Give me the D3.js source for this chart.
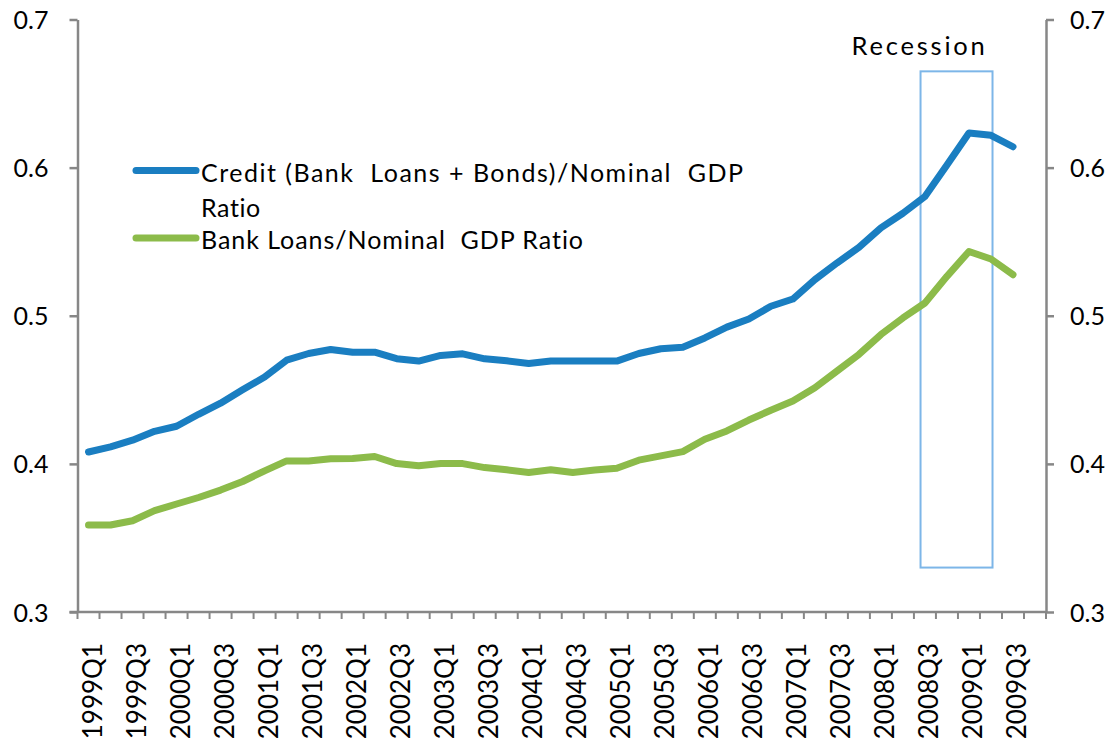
<!DOCTYPE html>
<html>
<head>
<meta charset="utf-8">
<script src="https://cdn.jsdelivr.net/npm/d3@7"></script>
<style>
  html, body { margin: 0; padding: 0; background: #ffffff; }
  svg { display: block; }
  text { font-family: Lato, "Open Sans", sans-serif; fill: #000; }
</style>
</head>
<body>
<svg id="chart" width="1118" height="745"></svg>
<script>
// Quarterly categories, 1999Q1 .. 2009Q4
const quarters = [
  "1999Q1","1999Q2","1999Q3","1999Q4",
  "2000Q1","2000Q2","2000Q3","2000Q4",
  "2001Q1","2001Q2","2001Q3","2001Q4",
  "2002Q1","2002Q2","2002Q3","2002Q4",
  "2003Q1","2003Q2","2003Q3","2003Q4",
  "2004Q1","2004Q2","2004Q3","2004Q4",
  "2005Q1","2005Q2","2005Q3","2005Q4",
  "2006Q1","2006Q2","2006Q3","2006Q4",
  "2007Q1","2007Q2","2007Q3","2007Q4",
  "2008Q1","2008Q2","2008Q3","2008Q4",
  "2009Q1","2009Q2","2009Q3","2009Q4"
];

// Credit (bank loans + bonds) / nominal GDP
const creditRatio = [
  0.408, 0.4115, 0.416, 0.422,
  0.4254, 0.4335, 0.441, 0.450,
  0.4586, 0.470, 0.4745, 0.4772,
  0.4754, 0.4754, 0.471, 0.4694,
  0.4732, 0.4743, 0.4709, 0.4696,
  0.4678, 0.4694, 0.4694, 0.4694,
  0.4694, 0.4745, 0.4777, 0.4788,
  0.485, 0.4923, 0.4978, 0.5064,
  0.5113, 0.5244, 0.5356, 0.5461,
  0.5593, 0.5692, 0.5805, 0.6018,
  0.6234, 0.6218, 0.6141, null
];

// Bank loans / nominal GDP
const loanRatio = [
  0.3587, 0.3587, 0.3616, 0.3684,
  0.3729, 0.3773, 0.3823, 0.3881,
  0.3953, 0.402, 0.402, 0.4034,
  0.4036, 0.405, 0.4002, 0.3987,
  0.4002, 0.4002, 0.3975, 0.396,
  0.3942, 0.396, 0.3942, 0.3958,
  0.3971, 0.4025, 0.4054, 0.4083,
  0.4166, 0.4222, 0.4296, 0.4362,
  0.4424, 0.4514, 0.4626, 0.4739,
  0.4873, 0.4985, 0.5086, 0.5266,
  0.5434, 0.5383, 0.5277, null
];

const yTicks = [0.3, 0.4, 0.5, 0.6, 0.7];
const seriesNames = [
  ["Credit (Bank  Loans + Bonds)/Nominal  GDP", "Ratio"],
  ["Bank Loans/Nominal  GDP Ratio"]
];
const seriesColors = ["#1a7ec1", "#8cbb4a"];
const recessionLabel = "Recession";
const recessionSpan = ["2008Q3", "2009Q2"];
const recessionRange = [0.33, 0.665];

const svg = d3.select("#chart");
const plotLeft = 77.5, plotRight = 1046, plotTop = 19.5, plotBottom = 612;

const x = d3.scaleBand().domain(quarters).range([plotLeft, plotRight]).padding(0);
const y = d3.scaleLinear().domain([0.3, 0.7]).range([plotBottom, plotTop]);
const cx = q => x(q) + x.bandwidth() / 2;

const axisColor = "#878787";

// Recession box
const boxX0 = x(recessionSpan[0]) + x.bandwidth() * 0.3;
const boxX1 = x(recessionSpan[1]) + x.bandwidth() * 0.57;
svg.append("rect")
  .attr("x", boxX0)
  .attr("y", y(recessionRange[1]))
  .attr("width", boxX1 - boxX0)
  .attr("height", y(recessionRange[0]) - y(recessionRange[1]))
  .attr("fill", "none")
  .attr("stroke", "#7db6e8")
  .attr("stroke-width", 2);

svg.append("text")
  .attr("x", boxX0 - 69)
  .attr("y", 55)
  .style("font-size", "25.5px")
  .style("letter-spacing", "2.8px")
  .text(recessionLabel);

// Left and right value axes
const yLeft = d3.axisLeft(y).tickValues(yTicks).tickFormat(d3.format(".1f")).tickSize(8).tickSizeOuter(0);
const gL = svg.append("g").attr("transform", `translate(${plotLeft},0)`).call(yLeft);
const yRight = d3.axisRight(y).tickValues(yTicks).tickFormat(d3.format(".1f")).tickSize(8).tickSizeOuter(0);
const gR = svg.append("g").attr("transform", `translate(${plotRight},0)`).call(yRight);

[gL, gR].forEach(g => {
  g.select(".domain").attr("stroke", axisColor).attr("stroke-width", 2.5);
  g.selectAll(".tick line").attr("stroke", axisColor).attr("stroke-width", 2.5);
  g.selectAll(".tick text").style("font-size", "25px").attr("fill", "#000");
});
gL.selectAll(".tick text").attr("x", -29).attr("dy", "0.36em");
gR.selectAll(".tick text").attr("x", 24).attr("dy", "0.36em");

// Category axis: baseline with a tick at every quarter boundary
const gX = svg.append("g");
gX.append("line")
  .attr("x1", plotLeft - 8).attr("x2", plotRight)
  .attr("y1", plotBottom).attr("y2", plotBottom)
  .attr("stroke", axisColor).attr("stroke-width", 2.5);
gX.selectAll("line.qt")
  .data(quarters.concat(["end"]))
  .join("line")
  .attr("class", "qt")
  .attr("x1", (d, i) => i < quarters.length ? x(d) : plotRight)
  .attr("x2", (d, i) => i < quarters.length ? x(d) : plotRight)
  .attr("y1", plotBottom).attr("y2", plotBottom + 7)
  .attr("stroke", axisColor).attr("stroke-width", 2);

gX.selectAll("text.ql")
  .data(quarters.filter((d, i) => i % 2 === 0))
  .join("text")
  .attr("class", "ql")
  .attr("transform", d => `translate(${cx(d) + 13.5},${643}) rotate(-90)`)
  .attr("text-anchor", "end")
  .style("font-size", "26px")
  .text(d => d);

// Series lines
const line = d3.line()
  .defined(d => d.v != null)
  .x(d => cx(d.q))
  .y(d => y(d.v));

[creditRatio, loanRatio].forEach((vals, k) => {
  svg.append("path")
    .datum(quarters.map((q, i) => ({ q, v: vals[i] })))
    .attr("d", line)
    .attr("fill", "none")
    .attr("stroke", seriesColors[k])
    .attr("stroke-width", 7)
    .attr("stroke-linejoin", "round")
    .attr("stroke-linecap", "round");
});

// Legend
const legend = svg.append("g");
const legendRows = [170.5, 238];
const legendSpacing = [["1.5px", "0.6px"], ["0.95px"]];
seriesNames.forEach((lines, k) => {
  legend.append("line")
    .attr("x1", 136).attr("x2", 196)
    .attr("y1", legendRows[k]).attr("y2", legendRows[k])
    .attr("stroke", seriesColors[k])
    .attr("stroke-width", 7)
    .attr("stroke-linecap", "round");
  const t = legend.append("text")
    .attr("x", 201)
    .attr("y", legendRows[k] + 11)
    .style("font-size", "25px")
    .style("white-space", "pre");
  lines.forEach((ln, j) => {
    t.append("tspan")
      .attr("x", 201)
      .attr("dy", j === 0 ? 0 : 35)
      .style("letter-spacing", legendSpacing[k][j])
      .text(ln);
  });
});
</script>
</body>
</html>
